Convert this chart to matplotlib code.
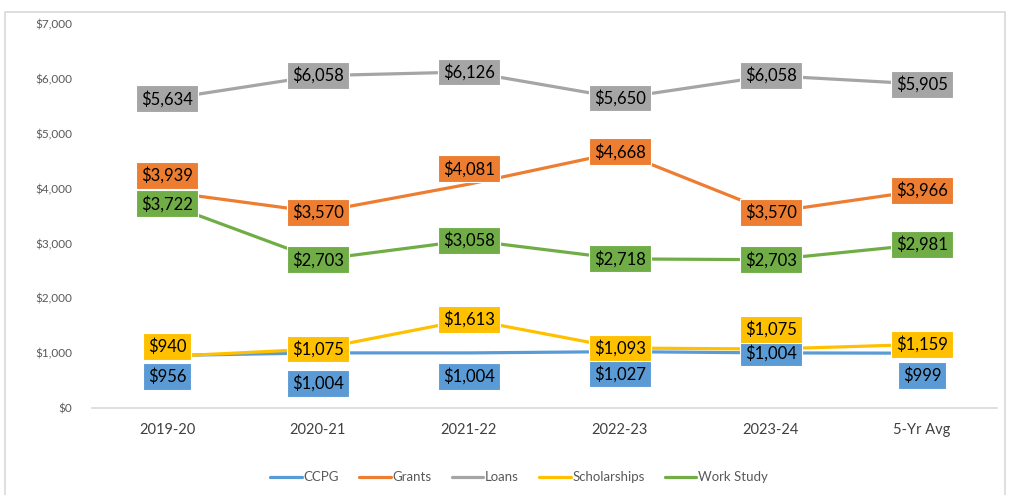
import numpy as np
import matplotlib
matplotlib.use("Agg")
import matplotlib.pyplot as plt
from matplotlib.patches import Rectangle

categories = ["2019-20", "2020-21", "2021-22", "2022-23", "2023-24", "5-Yr Avg"]
series_names = ["CCPG", "Grants", "Loans", "Scholarships", "Work Study"]
ccpg = [956, 1004, 1004, 1027, 1004, 999]
grants = [3939, 3570, 4081, 4668, 3570, 3966]
loans = [5634, 6058, 6126, 5650, 6058, 5905]
scholarships = [940, 1075, 1613, 1093, 1075, 1159]
work_study = [3722, 2703, 3058, 2718, 2703, 2981]

colors = ["#5B9BD5", "#ED7D31", "#A5A5A5", "#FFC000", "#70AD47"]
# label offsets in points (vertical), to mimic where Excel placed them
offsets = [
    [-15, -22, -17, -16, 0, -16],
    [12, 0, 11, 0, 0, 0],
    [0, 0, 0, 0, 0, 0],
    [7, 0, 0, 0, 14, 0],
    [0, 0, 0, 0, 0, 0],
]

plt.rcParams['font.family'] = ['Lato', 'DejaVu Sans']

fig = plt.figure(figsize=(10.1, 4.95), dpi=100)
ax = fig.add_axes([0.0906, 0.1758, 0.897, 0.7757])

# chart frame
fig.patches.append(Rectangle((0.005, -0.01), 0.99, 0.985, transform=fig.transFigure,
                             fill=False, edgecolor="#D9D9D9", linewidth=1.2))

x = np.arange(len(categories))
all_series = [ccpg, grants, loans, scholarships, work_study]
for i, (name, vals) in enumerate(zip(series_names, all_series)):
    ax.plot(x, vals, color=colors[i], linewidth=2.3, label=name, zorder=2,
            solid_capstyle="round")

for i, vals in enumerate(all_series):
    for j, v in enumerate(vals):
        ax.annotate(f"${v:,}", (x[j], v), xytext=(0, offsets[i][j]),
                    textcoords="offset points", ha="center", va="center",
                    fontsize=12, color="black", zorder=3 + i,
                    bbox=dict(boxstyle="square,pad=0.3", facecolor=colors[i],
                              edgecolor="white", linewidth=0.8))

ax.set_xlim(-0.5, len(categories) - 0.5)
ax.set_ylim(0, 7000)
ax.set_yticks(np.arange(0, 7001, 1000))
ax.set_yticklabels([f"${t:,}" for t in range(0, 7001, 1000)], fontsize=8.5, color="#595959")
ax.set_xticks(x)
ax.set_xticklabels(categories, fontsize=10.5, color="#404040")
ax.tick_params(axis="y", length=0, pad=14)
ax.tick_params(axis="x", length=0, pad=11)
for s in ["top", "right", "left"]:
    ax.spines[s].set_visible(False)
ax.spines["bottom"].set_color("#D9D9D9")
ax.spines["bottom"].set_linewidth(1.2)

fig.legend(loc="center", bbox_to_anchor=(0.514, 0.036), ncol=5, frameon=False,
           fontsize=9.5, handlelength=2.4, handletextpad=0.15, columnspacing=1.5,
           labelcolor="#595959")

fig.savefig("out.png", dpi=100)
